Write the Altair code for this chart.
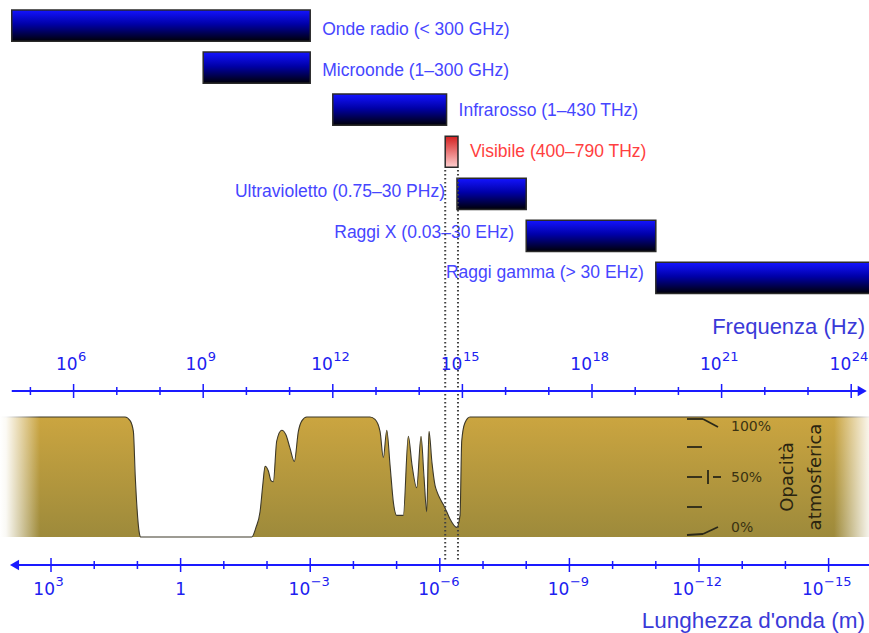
import altair as alt
import pandas as pd
import numpy as np

C = 3.0e8  # speed of light, m/s

# ---------------- data ----------------
band_labels = ["Onde radio (< 300 GHz)", "Microonde (1–300 GHz)", "Infrarosso (1–430 THz)",
               "Visibile (400–790 THz)", "Ultravioletto (0.75–30 PHz)", "Raggi X (0.03–30 EHz)",
               "Raggi gamma (> 30 EHz)"]
band_lo_hz = [3.7e4, 1e9, 1e12, 4.0e14, 7.5e14, 3e16, 3e19]
band_hi_hz = [3e11, 3e11, 4.3e14, 7.9e14, 3e16, 3e19, 1e25]
band_side = ["right", "right", "right", "right", "left", "left", "left"]
band_kind = ["blue", "blue", "blue", "red", "blue", "blue", "blue"]

visible_hz = [4.0e14, 7.9e14]

freq_major_exp = [6, 9, 12, 15, 18, 21, 24]
freq_major_base = ["10", "10", "10", "10", "10", "10", "10"]
freq_major_sup = ["6", "9", "12", "15", "18", "21", "24"]
freq_minor_exp = [5, 7, 8, 10, 11, 13, 14, 16, 17, 19, 20, 22, 23]
freq_axis_hz = [3.7e4, 1.8e24]

wl_major_exp = [3, 0, -3, -6, -9, -12, -15]
wl_major_base = ["10", "1", "10", "10", "10", "10", "10"]
wl_major_sup = ["3", "", "−3", "−6", "−9", "−12", "−15"]
wl_minor_exp = [2, 1, -1, -2, -4, -5, -7, -8, -10, -11, -13, -14]
wl_axis_m = [7.0e3, 1.0e-16]

opac_wl_m = [1.5e4, 19.4, 14.8, 12.4, 11.2, 9.0, 8.5, 0.0226, 0.018, 0.0145, 0.0124, 0.0111,
             0.0093, 0.0081, 0.00714, 0.00596, 0.00457, 0.00363, 0.00294, 0.00233, 0.00188,
             0.00155, 0.0012, 4.13e-5, 3.16e-5, 2.42e-5, 2.03e-5, 1.69e-5, 1.42e-5, 1.18e-5,
             9.95e-6, 7.0e-6, 5.36e-6, 4.4e-6, 3.43e-6, 2.72e-6, 2.32e-6, 2.01e-6, 1.78e-6,
             1.52e-6, 1.29e-6, 1.14e-6, 9.9e-7, 8.3e-7, 6.9e-7, 5.8e-7, 4.06e-7, 3.4e-7,
             3.11e-7, 2.63e-7, 2.0e-7, 1.0e-16]
opac_pct = [100, 100, 97, 88, 50, 3, 0, 0, 8, 21, 45, 59, 55, 47, 46, 80, 89, 85, 74, 63, 88,
            97, 100, 100, 98, 88, 66, 89, 60, 28, 18, 18, 84, 60, 41, 84, 50, 21, 88, 62, 43,
            37, 32, 27, 21, 15, 8, 18, 80, 95, 100, 100]

opac_legend_lbl = ["100%", "50%", "0%"]
opac_legend_pct = [100, 50, 0]

# ---------------- styling ----------------
W, H = 869, 633
X_DOMAIN = [10 ** 4.2963, 10 ** 24.412]
AX = "#1a1aff"
TICKLBL = "#2020f0"
TITLE = "#3a3ad8"
FONT = "Liberation Sans"
FONT2 = "DejaVu Sans"
FY = 391      # frequency axis line
WY = 565      # wavelength axis line
OP0, OP100 = 537, 417
SUP_DX = {0: 0, 1: 4, 2: 0, 3: -5}


def X(field):
    return alt.X(f"{field}:Q", scale=alt.Scale(type="log", domain=X_DOMAIN, nice=False), axis=None)


bars = pd.DataFrame({"label": band_labels, "lo": band_lo_hz, "hi": band_hi_hz,
                     "side": band_side, "kind": band_kind})
Yb = alt.Y("label:N", scale=alt.Scale(domain=band_labels, range=[10, 293.5],
                                      paddingInner=0.26, paddingOuter=0), axis=None)

blue_grad = alt.Gradient(gradient="linear", x1=0, x2=0, y1=0, y2=1,
                         stops=[alt.GradientStop(color="#1414ff", offset=0),
                                alt.GradientStop(color="#0000a8", offset=0.45),
                                alt.GradientStop(color="#000008", offset=1)])
red_grad = alt.Gradient(gradient="linear", x1=0, x2=0, y1=0, y2=1,
                        stops=[alt.GradientStop(color="#d42020", offset=0),
                               alt.GradientStop(color="#ffd0d0", offset=1)])
gold_grad = alt.Gradient(gradient="linear", x1=0, x2=0, y1=0, y2=1,
                         stops=[alt.GradientStop(color="#cba540", offset=0),
                                alt.GradientStop(color="#9d8a3b", offset=1)])
fade_left = alt.Gradient(gradient="linear", x1=0, x2=1, y1=0, y2=0,
                         stops=[alt.GradientStop(color="rgba(255,255,255,1)", offset=0),
                                alt.GradientStop(color="rgba(255,255,255,0.95)", offset=0.15),
                                alt.GradientStop(color="rgba(255,255,255,0)", offset=1)])
fade_right = alt.Gradient(gradient="linear", x1=0, x2=1, y1=0, y2=0,
                          stops=[alt.GradientStop(color="rgba(255,255,255,0)", offset=0),
                                 alt.GradientStop(color="rgba(255,255,255,0.9)", offset=1)])

base = alt.Chart(bars)
blue_bars = base.transform_filter("datum.kind == 'blue'").mark_bar(
    color=blue_grad, stroke="#2a2a2a", strokeWidth=1.5, clip=True
).encode(x=X("lo"), x2="hi", y=Yb)
red_bar = base.transform_filter("datum.kind == 'red'").mark_bar(
    color=red_grad, stroke="#2a2a2a", strokeWidth=1.5
).encode(x=X("lo"), x2="hi", y=Yb)

lbl_color = alt.Color("kind:N", scale=alt.Scale(domain=["blue", "red"], range=["#4646ff", "#ff4040"]),
                      legend=None)
lbl_right = base.transform_filter("datum.side == 'right'").mark_text(
    align="left", baseline="middle", dx=12, font=FONT, fontSize=17.5
).encode(x=X("hi"), y=Yb, text="label:N", color=lbl_color)
lbl_left = base.transform_filter("datum.side == 'left'").mark_text(
    align="right", baseline="middle", dx=-12, font=FONT, fontSize=17.5
).encode(x=X("lo"), y=Yb, text="label:N", color=lbl_color)

# dotted guides for the visible band
vis_df = pd.DataFrame({"f": visible_hz})
dotted = alt.Chart(vis_df).mark_rule(color="#404040", strokeWidth=2, strokeDash=[1.6, 2.4]).encode(
    x=X("f"), y=alt.value(170), y2=alt.value(562))


def tick_labels(df, ybase):
    """'10' + raised exponent, the pair centred on the tick."""
    layers = []
    for n, dx in SUP_DX.items():
        sub = alt.Chart(df).transform_filter(f"length(datum.sup) == {n}")
        if n == 0:
            layers.append(sub.mark_text(font=FONT2, fontSize=17, color=TICKLBL, baseline="middle",
                                        align="center").encode(x=X("f"), y=alt.value(ybase), text="base:N"))
        else:
            layers.append(sub.mark_text(font=FONT2, fontSize=17, color=TICKLBL, baseline="middle",
                                        align="right", dx=dx).encode(x=X("f"), y=alt.value(ybase), text="base:N"))
            layers.append(sub.mark_text(font=FONT2, fontSize=13, color=TICKLBL, baseline="middle",
                                        align="left", dx=dx + 0.5).encode(x=X("f"), y=alt.value(ybase - 8),
                                                                         text="sup:N"))
    return layers


# ---------------- frequency axis ----------------
fmaj = pd.DataFrame({"f": [10.0 ** e for e in freq_major_exp], "base": freq_major_base, "sup": freq_major_sup})
fmin = pd.DataFrame({"f": [10.0 ** e for e in freq_minor_exp]})
fax = pd.DataFrame({"a": [freq_axis_hz[0]], "b": [freq_axis_hz[1]]})

f_line = alt.Chart(fax).mark_rule(color=AX, strokeWidth=2).encode(x=X("a"), x2="b", y=alt.value(FY))
f_arrow = alt.Chart(fax).mark_point(shape="triangle-right", filled=True, size=110, color=AX, opacity=1).encode(
    x=X("b"), y=alt.value(FY))
f_major = alt.Chart(fmaj).mark_rule(color=AX, strokeWidth=1.5).encode(
    x=X("f"), y=alt.value(FY - 7), y2=alt.value(FY + 7))
f_minor = alt.Chart(fmin).mark_rule(color=AX, strokeWidth=1.5).encode(
    x=X("f"), y=alt.value(FY - 4), y2=alt.value(FY + 4))
f_lbls = tick_labels(fmaj, FY - 26)
f_title = alt.Chart(fax).mark_text(font=FONT, fontSize=22, color=TITLE, align="right", baseline="middle",
                                   text="Frequenza (Hz)").encode(x=alt.value(865), y=alt.value(327))

# ---------------- wavelength axis ----------------
wmaj = pd.DataFrame({"f": [C / 10.0 ** e for e in wl_major_exp], "base": wl_major_base, "sup": wl_major_sup})
wmin = pd.DataFrame({"f": [C / 10.0 ** e for e in wl_minor_exp]})
wax = pd.DataFrame({"a": [C / wl_axis_m[0]], "b": [C / wl_axis_m[1]]})

w_line = alt.Chart(wax).mark_rule(color=AX, strokeWidth=2, clip=True).encode(x=X("a"), x2="b", y=alt.value(WY))
w_arrow = alt.Chart(wax).mark_point(shape="triangle-left", filled=True, size=110, color=AX, opacity=1).encode(
    x=X("a"), y=alt.value(WY))
w_major = alt.Chart(wmaj).mark_rule(color=AX, strokeWidth=1.5).encode(
    x=X("f"), y=alt.value(WY - 7), y2=alt.value(WY + 7))
w_minor = alt.Chart(wmin).mark_rule(color=AX, strokeWidth=1.5).encode(
    x=X("f"), y=alt.value(WY - 4), y2=alt.value(WY + 4))
w_lbls = tick_labels(wmaj, WY + 25)
w_title = alt.Chart(wax).mark_text(font=FONT, fontSize=22.5, color=TITLE, align="right", baseline="middle",
                                   text="Lunghezza d'onda (m)").encode(x=alt.value(865), y=alt.value(621))

# ---------------- atmospheric opacity ----------------
op = pd.DataFrame({"wl": opac_wl_m, "pct": opac_pct})
op["f"] = C / op["wl"]
Yo = alt.Y("pct:Q", scale=alt.Scale(domain=[0, 100], range=[OP0, OP100]), axis=None)
op_area = alt.Chart(op).mark_area(color=gold_grad, interpolate="monotone", clip=True).encode(x=X("f"), y=Yo)
op_line = alt.Chart(op).mark_line(color="#3c3828", strokeWidth=1.1, interpolate="monotone", clip=True).encode(
    x=X("f"), y=Yo)

fade_l = alt.Chart(fax).mark_rect(color=fade_left).encode(
    x=alt.value(0), x2=alt.value(40), y=alt.value(410), y2=alt.value(541))
fade_r = alt.Chart(fax).mark_rect(color=fade_right).encode(
    x=alt.value(834), x2=alt.value(869), y=alt.value(410), y2=alt.value(541))


def seg(x1, y1, x2, y2):
    return alt.Chart(fax).mark_rule(color="#2a2818", strokeWidth=1.8).encode(
        x=alt.value(x1), y=alt.value(y1), x2=alt.value(x2), y2=alt.value(y2))


legend_marks = [
    seg(687, 419, 703, 419), seg(703, 419, 718, 427),
    seg(687, 447, 702, 447),
    seg(687, 477, 702, 477), seg(708, 470, 708, 484), seg(713, 477, 721, 477),
    seg(687, 507, 702, 507),
    seg(687, 535, 703, 534), seg(703, 534, 718, 527),
]
leg_df = pd.DataFrame({"lbl": opac_legend_lbl, "pct": opac_legend_pct})
leg_text = alt.Chart(leg_df).mark_text(font=FONT2, fontSize=14, color="#3a3212", align="left",
                                       baseline="middle").encode(
    x=alt.value(731),
    y=alt.Y("pct:Q", scale=alt.Scale(domain=[0, 100], range=[528, 427]), axis=None),
    text="lbl:N")
op_title1 = alt.Chart(fax).mark_text(font=FONT2, fontSize=18, color="#2a2410", angle=270, align="center",
                                     baseline="middle", text="Opacità").encode(x=alt.value(788), y=alt.value(477))
op_title2 = alt.Chart(fax).mark_text(font=FONT2, fontSize=18, color="#2a2410", angle=270, align="center",
                                     baseline="middle", text="atmosferica").encode(x=alt.value(816), y=alt.value(477))

chart = alt.layer(
    op_area, op_line, fade_l, fade_r, *legend_marks, leg_text, op_title1, op_title2,
    blue_bars, red_bar, lbl_right, lbl_left,
    dotted,
    f_line, f_arrow, f_major, f_minor, *f_lbls, f_title,
    w_line, w_arrow, w_major, w_minor, *w_lbls, w_title,
).resolve_scale(y="independent").properties(
    width=W, height=H, padding=0, autosize=alt.AutoSizeParams(type="none"),
    background="white"
).configure_view(stroke=None)

chart.save("out.html", embed_options={"renderer": "svg", "actions": False})
